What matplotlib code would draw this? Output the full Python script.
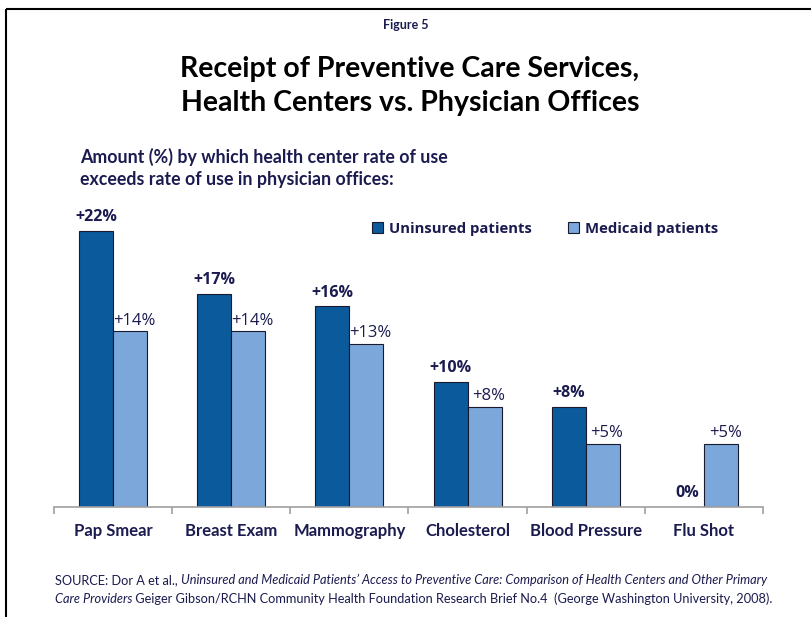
import matplotlib
matplotlib.use("Agg")
import matplotlib.pyplot as plt
import numpy as np

categories = ["Pap Smear", "Breast Exam", "Mammography", "Cholesterol", "Blood Pressure", "Flu Shot"]
uninsured = [22, 17, 16, 10, 8, 0]
medicaid = [14, 14, 13, 8, 5, 5]
uninsured_labels = ["+22%", "+17%", "+16%", "+10%", "+8%", "0%"]
medicaid_labels = ["+14%", "+14%", "+13%", "+8%", "+5%", "+5%"]

NAVY = "#1b1b50"
DARK = "#0b5a9c"
LIGHT = "#7ba7da"
W, H = 812, 617

fig = plt.figure(figsize=(W / 100, H / 100), dpi=100)

# background layer for border and free text
bg = fig.add_axes([0, 0, 1, 1])
bg.set_xlim(0, W)
bg.set_ylim(H, 0)
bg.axis("off")
bg.plot([6, W], [9, 9], color="black", lw=1.5, solid_capstyle="butt")
bg.plot([6.5, 6.5], [9, H], color="black", lw=1.5, solid_capstyle="butt")

bg.text(406, 25, "Figure 5", ha="center", va="center", fontsize=9,
        fontweight="bold", family="Lato", color=NAVY)
bg.text(410, 86, "Receipt of Preventive Care Services,\nHealth Centers vs. Physician Offices",
        ha="center", va="center", fontsize=20.5, fontweight="bold", family="Lato",
        color="black", linespacing=1.4)
bg.text(80, 168, "Amount (%) by which health center rate of use\nexceeds rate of use in physician offices:",
        ha="left", va="center", fontsize=12.8, fontweight="bold", family="Lato",
        color=NAVY, linespacing=1.3)


def rich_line(x, y, parts):
    t = bg.text(x, y, parts[0][0], style=parts[0][1], fontsize=9.2, family="Lato",
                color=NAVY, ha="left", va="bottom")
    for s, st in parts[1:]:
        t = bg.annotate(s, xy=(1, 0), xycoords=t, style=st, fontsize=9.2, family="Lato",
                        color=NAVY, ha="left", va="bottom")


rich_line(55, 586, [("SOURCE: Dor A et al., ", "normal"),
                    ("Uninsured and Medicaid Patients\u2019 Access to Preventive Care: Comparison of Health Centers and Other Primary", "italic")])
rich_line(55, 605, [("Care Providers", "italic"),
                    (" Geiger Gibson/RCHN Community Health Foundation Research Brief No.4  (George Washington University, 2008).", "normal")])

# chart
ax = fig.add_axes([54 / W, 110 / H, 709 / W, 307 / H])
x = np.arange(len(categories))
bw = 0.288
ax.bar(x - bw, uninsured, bw, align="edge", color=DARK, edgecolor="#1a1a2e", lw=0.8,
       label="Uninsured patients")
ax.bar(x, medicaid, bw, align="edge", color=LIGHT, edgecolor="#1a1a2e", lw=0.8,
       label="Medicaid patients")

for i in range(len(categories)):
    ax.annotate(uninsured_labels[i], (x[i] - bw / 2, uninsured[i]), xytext=(0, 4),
                textcoords="offset points", ha="center", va="bottom", fontsize=11.5,
                fontweight="bold", family="Open Sans", color=NAVY)
    ax.annotate(medicaid_labels[i], (x[i] + bw / 2, medicaid[i]), xytext=(3, 2),
                textcoords="offset points", ha="center", va="bottom", fontsize=12,
                family="Open Sans", color=NAVY)

ax.set_xlim(-0.5, len(categories) - 0.5)
ax.set_ylim(0, 307 / 12.55)
for s in ["top", "right", "left"]:
    ax.spines[s].set_visible(False)
ax.spines["bottom"].set_color("#a0a0a0")
ax.spines["bottom"].set_linewidth(1.2)
ax.set_yticks([])
ax.set_xticks(np.arange(-0.5, len(categories), 1.0))
ax.set_xticklabels([])
ax.tick_params(axis="x", length=5, color="#a0a0a0", width=1.2)
for i, c in enumerate(categories):
    ax.text(x[i], -0.078, c, transform=ax.get_xaxis_transform(), ha="center", va="center",
            fontsize=12, fontweight="bold", family="Lato", color=NAVY)

leg = ax.legend(loc="center left", bbox_to_anchor=((372 - 54) / 709, (507 - 229) / 307),
                ncol=2, frameon=False, handlelength=0.75, handleheight=0.75,
                handletextpad=0.4, columnspacing=2.4, borderaxespad=0, borderpad=0,
                prop={"family": "Open Sans", "weight": "bold", "size": 10.7})
for t in leg.get_texts():
    t.set_color(NAVY)

fig.savefig("out.png", dpi=100)
